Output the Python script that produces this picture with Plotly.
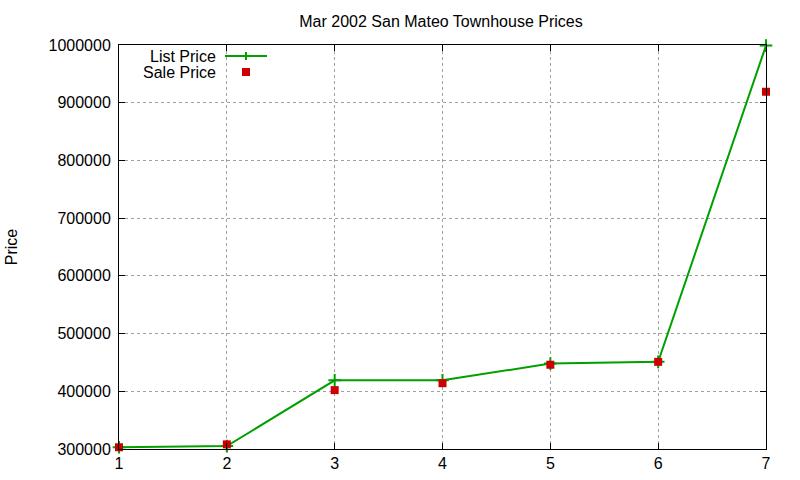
import plotly.graph_objects as go

x_vals = [1, 2, 3, 4, 5, 6, 7]
list_price = [303000, 305000, 419000, 419000, 448000, 451000, 999000]
sale_price = [303000, 308000, 402000, 414000, 446000, 451000, 919000]

title_text = "Mar 2002 San Mateo Townhouse Prices"
y_title = "Price"
series_names = ["List Price", "Sale Price"]

GREEN = "#00a000"
RED = "#cc0000"
FONT = "Liberation Sans, Arial, sans-serif"

fig = go.Figure()
fig.add_trace(go.Scatter(
    x=x_vals, y=list_price, mode="lines+markers", name=series_names[0],
    line=dict(color=GREEN, width=2),
    marker=dict(symbol="cross-thin", size=9, line=dict(color=GREEN, width=2)),
    showlegend=False, cliponaxis=False,
))
fig.add_trace(go.Scatter(
    x=x_vals, y=sale_price, mode="markers", name=series_names[1],
    marker=dict(symbol="square", size=8, color=RED),
    showlegend=False, cliponaxis=False,
))

W, H = 800, 480
L, R, T, B = 119, 34, 45, 31
pw, ph = W - L - R, H - T - B

def px(xp):
    return (xp - L) / pw

def py(yp):
    return 1 - (yp - T) / ph

shapes = [
    dict(type="line", xref="paper", yref="paper", x0=px(225), x1=px(267), y0=py(56), y1=py(56),
         line=dict(color=GREEN, width=2)),
    dict(type="line", xref="paper", yref="paper", x0=px(246), x1=px(246), y0=py(52), y1=py(60),
         line=dict(color=GREEN, width=2)),
    dict(type="rect", xref="paper", yref="paper", x0=px(242), x1=px(250), y0=py(68), y1=py(76),
         line=dict(width=0), fillcolor=RED),
]

annotations = [
    dict(xref="paper", yref="paper", x=px(218), y=py(56), text=series_names[0], showarrow=False,
         xanchor="right", yanchor="middle", font=dict(family=FONT, size=16, color="#000")),
    dict(xref="paper", yref="paper", x=px(218), y=py(72), text=series_names[1], showarrow=False,
         xanchor="right", yanchor="middle", font=dict(family=FONT, size=16, color="#000")),
]

fig.update_layout(
    width=W, height=H,
    margin=dict(l=L, r=R, t=T, b=B, pad=0, autoexpand=False),
    paper_bgcolor="white", plot_bgcolor="white",
    font=dict(family=FONT, size=16, color="#000"),
    title=dict(text=title_text, x=441 / W, xanchor="center", y=1 - 21 / H, yanchor="middle",
               font=dict(family=FONT, size=16, color="#000")),
    shapes=shapes, annotations=annotations,
    showlegend=False,
)
fig.update_xaxes(
    range=[1, 7], tickmode="linear", tick0=1, dtick=1, automargin=False,
    showline=True, linecolor="#000", linewidth=1, mirror="ticks",
    ticks="inside", ticklen=6, tickcolor="#000",
    showgrid=True, gridcolor="#a0a0a0", griddash="dot", gridwidth=1,
    zeroline=False, tickfont=dict(family=FONT, size=16),
)
fig.update_yaxes(
    range=[300000, 1000000], tickmode="linear", tick0=300000, dtick=100000, tickformat="d",
    automargin=False,
    showline=True, linecolor="#000", linewidth=1, mirror="ticks",
    ticks="inside", ticklen=6, tickcolor="#000",
    showgrid=True, gridcolor="#a0a0a0", griddash="dot", gridwidth=1,
    zeroline=False, tickfont=dict(family=FONT, size=16), ticklabelstandoff=4,
    title=dict(text=y_title, font=dict(family=FONT, size=16), standoff=26),
)

fig.write_html("out.html", post_script="document.body.style.margin='0';",
               config={"displayModeBar": False})
